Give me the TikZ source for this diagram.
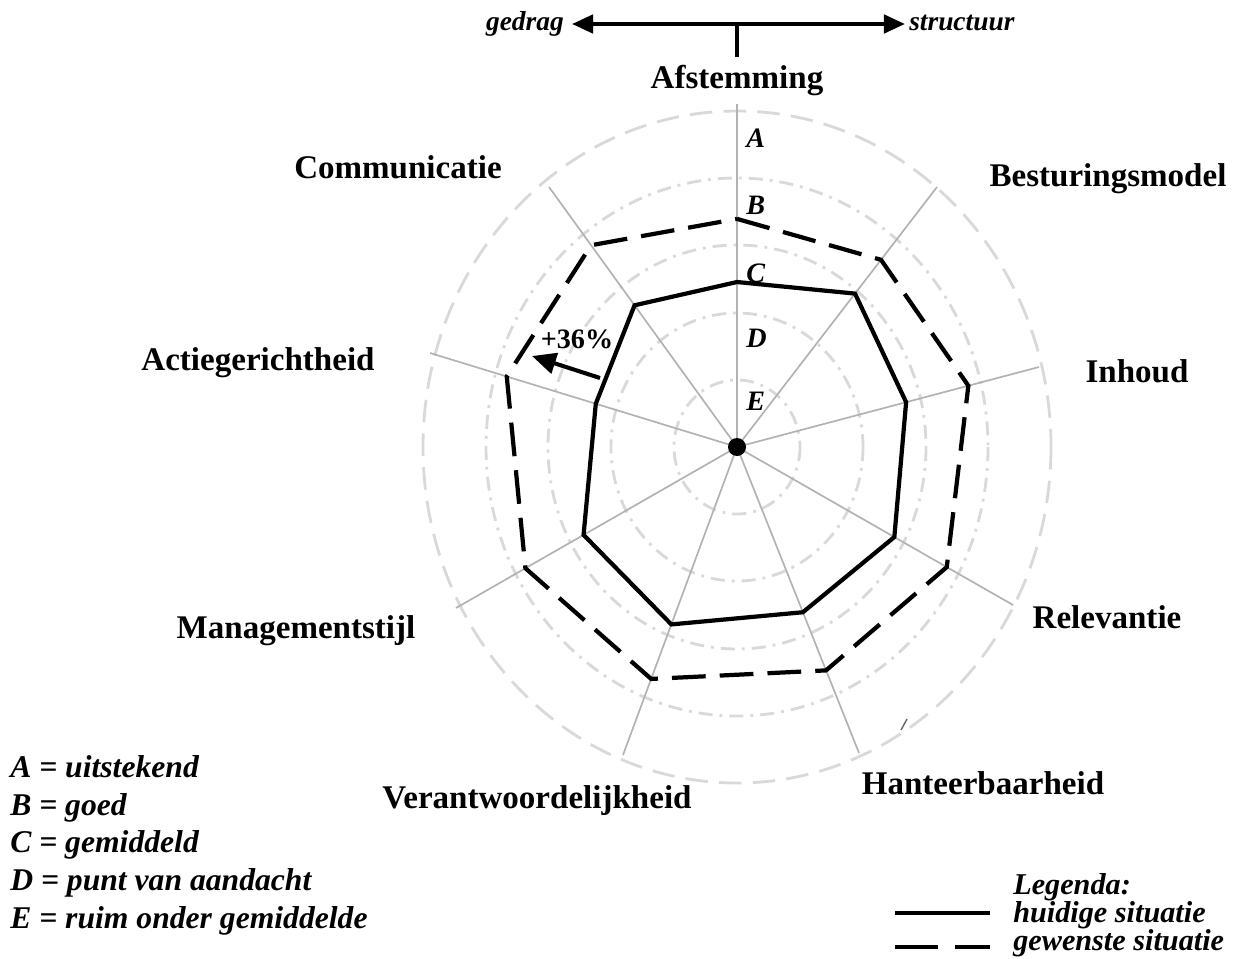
\documentclass[tikz,border=0pt]{standalone}
\usepackage{fontspec}
\setmainfont{Liberation Serif}
\usetikzlibrary{arrows.meta,calc,positioning}

\begin{document}
\begin{tikzpicture}[
    x=0.025cm, y=-0.025cm,
    axlabel/.style={font=\fontsize{23.5}{28}\selectfont\bfseries, anchor=base, inner sep=0pt},
    grade/.style={font=\fontsize{20}{24}\selectfont\bfseries\itshape, anchor=base west, inner sep=0pt},
    legtext/.style={font=\fontsize{22.5}{27}\selectfont\bfseries\itshape, anchor=base west, inner sep=0pt},
    keytext/.style={font=\fontsize{21.5}{26}\selectfont\bfseries\itshape, anchor=base west, inner sep=0pt},
    sidetext/.style={font=\fontsize{19.5}{23}\selectfont\bfseries\itshape, inner sep=0pt},
    spoke/.style={draw=black!30, line width=1.2pt},
    ring/.style={draw=black!15, line width=2pt, dash pattern=on 10pt off 5pt on 2pt off 5pt},
    outerring/.style={draw=black!15, line width=2pt, dash pattern=on 16pt off 8pt},
    now/.style={line width=3pt, line join=miter},
    wish/.style={line width=3pt, line join=miter, dash pattern=on 24pt off 10pt},
    dot/.style={circle, fill=black, inner sep=0pt, minimum size=18*0.025cm},
    arrow/.style={-{Triangle[length=17pt,width=15pt]}, line width=2.9pt}
]
\useasboundingbox (0,0) rectangle (1240,958);

% centre and rings
\coordinate (mid) at (737,447);
\draw[ring] (mid) ellipse [x radius=63, y radius=67];
\draw[ring] (mid) ellipse [x radius=126, y radius=134];
\draw[ring] (mid) ellipse [x radius=189, y radius=202];
\draw[ring] (mid) ellipse [x radius=251, y radius=269];
\draw[outerring] (mid) ellipse [x radius=314, y radius=336];

% spoke ends
\coordinate (sAf) at (737,104);
\coordinate (sBe) at (937,187);
\coordinate (sIn) at (1039,367);
\coordinate (sRe) at (1013,605);
\coordinate (sHa) at (859,753);
\coordinate (sVe) at (623,755);
\coordinate (sMa) at (456,608);
\coordinate (sAc) at (430,353);
\coordinate (sCo) at (549,187);

\draw[spoke] (mid) -- (sAf);
\draw[spoke] (mid) -- (sBe);
\draw[spoke] (mid) -- (sIn);
\draw[spoke] (mid) -- (sRe);
\draw[spoke] (mid) -- (sHa);
\draw[spoke] (mid) -- (sVe);
\draw[spoke] (mid) -- (sMa);
\draw[spoke] (mid) -- (sAc);
\draw[spoke] (mid) -- (sCo);

% grades on the vertical axis
\node[grade] (gA) at (746,148) {A};
\node[grade] (gB) at (746,215) {B};
\node[grade] (gC) at (746,282) {C};
\node[grade] (gD) at (746,347) {D};
\node[grade] (gE) at (746,410) {E};

% gewenste situatie
\draw[wish] ($(mid)!0.665!(sAf)$) -- ($(mid)!0.72!(sBe)$) -- ($(mid)!0.766!(sIn)$)
    -- ($(mid)!0.76!(sRe)$) -- ($(mid)!0.73!(sHa)$) -- ($(mid)!0.753!(sVe)$)
    -- ($(mid)!0.753!(sMa)$) -- ($(mid)!0.75!(sAc)$) -- ($(mid)!0.776!(sCo)$) -- cycle;

% huidige situatie
\draw[now] ($(mid)!0.481!(sAf)$) -- ($(mid)!0.59!(sBe)$) -- ($(mid)!0.56!(sIn)$)
    -- ($(mid)!0.57!(sRe)$) -- ($(mid)!0.54!(sHa)$) -- ($(mid)!0.576!(sVe)$)
    -- ($(mid)!0.546!(sMa)$) -- ($(mid)!0.46!(sAc)$) -- ($(mid)!0.545!(sCo)$) -- cycle;

\node[dot] (ctr) at (mid) {};

% +36% step
\coordinate (gainFrom) at (600,378);
\coordinate (gainTo) at (532,356);
\draw[arrow] (gainFrom) -- (gainTo);
\node[font=\fontsize{20}{24}\selectfont\bfseries, anchor=base, inner sep=0pt] (gain) at (577,348) {+36\%};
\draw[black!60, line width=1pt] (901,730) -- (907,719);

% axis labels
\node[axlabel] (afst) at (737,89) {Afstemming};
\node[axlabel] (best) at (1108,187) {Besturingsmodel};
\node[axlabel] (inh) at (1137,382) {Inhoud};
\node[axlabel] (rel) at (1107,628) {Relevantie};
\node[axlabel] (hant) at (983,794) {Hanteerbaarheid};
\node[axlabel] (verant) at (537,808) {Verantwoordelijkheid};
\node[axlabel] (mgmt) at (296,638) {Managementstijl};
\node[axlabel] (actie) at (258,370) {Actiegerichtheid};
\node[axlabel] (comm) at (398,179) {Communicatie};

% gedrag - structuur
\coordinate (gL) at (572,24);
\coordinate (gR) at (905,24);
\coordinate (gTop) at (737,24);
\coordinate (gFoot) at (737,57);
\draw[{Triangle[length=15pt,width=13pt]}-{Triangle[length=15pt,width=13pt]}, line width=2.8pt] (gL) -- (gR);
\draw[line width=2.8pt] (gTop) -- (gFoot);
\node[sidetext, anchor=base east] (gedrag) at (564,31) {gedrag};
\node[sidetext, anchor=base west] (struct) at (909,31) {structuur};

% scale legend
\node[legtext] (lA) at (10,777) {A = uitstekend};
\node[legtext] (lB) at (10,815) {B = goed};
\node[legtext] (lC) at (10,852) {C = gemiddeld};
\node[legtext] (lD) at (10,890) {D = punt van aandacht};
\node[legtext] (lE) at (10,928) {E = ruim onder gemiddelde};

% line legend
\node[keytext] (leg) at (1013,894) {Legenda:};
\node[keytext] (legNow) at (1013,922) {huidige situatie};
\node[keytext] (legWish) at (1013,950) {gewenste situatie};
\coordinate (nowA) at (895,913);
\coordinate (nowB) at (990,913);
\coordinate (wishA) at (895,947);
\coordinate (wishB) at (990,947);
\draw[line width=3.5pt] (nowA) -- (nowB);
\draw[line width=3.5pt, dash pattern=on 30.6pt off 12pt] (wishA) -- (wishB);
\end{tikzpicture}
\end{document}
